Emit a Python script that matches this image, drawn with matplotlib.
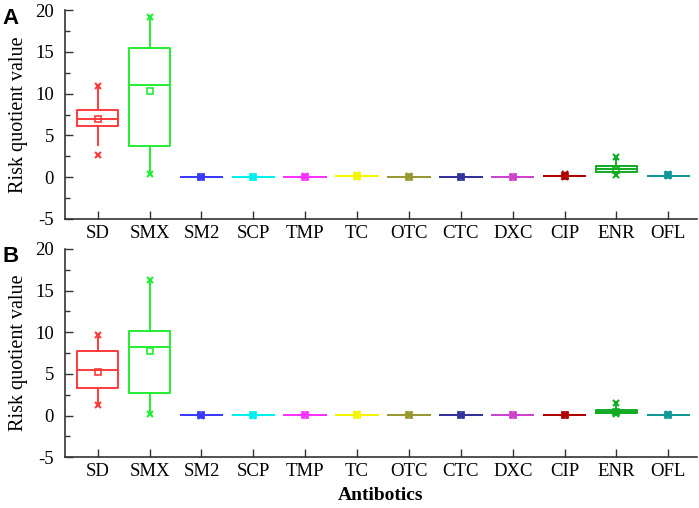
import matplotlib
matplotlib.use("Agg")
import matplotlib.pyplot as plt
from matplotlib.ticker import MultipleLocator

categories = ["SD", "SMX", "SM2", "SCP", "TMP", "TC", "OTC", "CTC", "DXC", "CIP", "ENR", "OFL"]
colors = ["#ff3b3b", "#22ee33", "#3a3aff", "#00f0f0", "#ff33ff", "#f5f500",
          "#999933", "#333399", "#cc44cc", "#b00000", "#11aa22", "#119999"]

# Panel A statistics
a_q1 = [6.07, 3.7, 0.02, 0.02, 0.05, 0.15, 0.05, 0.03, 0.03, 0.10, 0.60, 0.18]
a_med = [7.02, 11.07, 0.02, 0.02, 0.05, 0.15, 0.05, 0.03, 0.03, 0.10, 0.96, 0.18]
a_q3 = [8.06, 15.5, 0.02, 0.02, 0.05, 0.15, 0.05, 0.03, 0.03, 0.10, 1.32, 0.18]
a_mean = [7.0, 10.3, 0.02, 0.02, 0.08, 0.2, 0.06, 0.04, 0.04, 0.12, 0.84, 0.25]
a_wlo = [3.8, 0.45, 0.02, 0.02, 0.05, 0.15, 0.05, 0.03, 0.03, 0.10, 0.3, 0.18]
a_whi = [10.5, 19.1, 0.02, 0.02, 0.05, 0.15, 0.05, 0.03, 0.03, 0.10, 2.2, 0.18]
a_min = [2.7, 0.4, 0.01, 0.01, 0.02, 0.05, 0.02, 0.01, 0.01, 0.05, 0.24, 0.10]
a_max = [10.95, 19.2, 0.05, 0.05, 0.2, 0.3, 0.1, 0.06, 0.06, 0.35, 2.4, 0.4]

# Panel B statistics
b_q1 = [3.33, 2.7, 0.01, 0.01, 0.02, 0.05, 0.03, 0.02, 0.02, 0.04, 0.28, 0.08]
b_med = [5.48, 8.17, 0.01, 0.01, 0.02, 0.05, 0.03, 0.02, 0.02, 0.04, 0.48, 0.08]
b_q3 = [7.74, 10.16, 0.01, 0.01, 0.02, 0.05, 0.03, 0.02, 0.02, 0.04, 0.68, 0.08]
b_mean = [5.28, 7.7, 0.01, 0.01, 0.03, 0.08, 0.03, 0.03, 0.02, 0.05, 0.42, 0.08]
b_wlo = [1.3, 0.25, 0.01, 0.01, 0.02, 0.05, 0.03, 0.02, 0.02, 0.04, 0.22, 0.08]
b_whi = [9.7, 16.2, 0.01, 0.01, 0.02, 0.05, 0.03, 0.02, 0.02, 0.04, 1.3, 0.08]
b_min = [1.27, 0.2, 0.0, 0.0, 0.01, 0.02, 0.01, 0.01, 0.01, 0.02, 0.2, 0.05]
b_max = [9.72, 16.3, 0.03, 0.03, 0.08, 0.15, 0.05, 0.1, 0.05, 0.1, 1.5, 0.15]

plt.rcParams['font.family'] = ['Liberation Serif', 'DejaVu Serif']
plt.rcParams['axes.unicode_minus'] = False

fig = plt.figure(figsize=(6.99, 5.08), dpi=100)
axA = fig.add_axes([0.093, 0.569, 0.904, 0.411])
axB = fig.add_axes([0.093, 0.100, 0.904, 0.410])

positions = list(range(1, len(categories) + 1))


def draw(ax, q1, med, q3, mean, wlo, whi, mn, mx):
    for i, p in enumerate(positions):
        st = [dict(q1=q1[i], med=med[i], q3=q3[i], whislo=wlo[i], whishi=whi[i],
                   fliers=[], label=categories[i])]
        c = colors[i]
        ax.bxp(st, positions=[p], widths=0.8, showcaps=False, showfliers=False,
               boxprops=dict(color=c, linewidth=1.4),
               medianprops=dict(color=c, linewidth=1.4),
               whiskerprops=dict(color=c, linewidth=1.4),
               manage_ticks=False)
        ax.plot([p], [mean[i]], marker='s', markersize=4.5, markerfacecolor='none',
                markeredgecolor=c, markeredgewidth=1.2, linestyle='none')
        ax.plot([p, p], [mn[i], mx[i]], marker='x', markersize=4.5,
                markeredgecolor=c, markeredgewidth=1.5, linestyle='none')
    ax.set_xlim(0.37, 12.55)
    ax.set_ylim(-5, 20)
    ax.set_xticks(positions)
    ax.set_xticklabels(categories, fontsize=13.5)
    ax.yaxis.set_major_locator(MultipleLocator(5))
    ax.yaxis.set_minor_locator(MultipleLocator(2.5))
    ax.tick_params(axis='y', which='major', direction='in', length=6, width=1,
                   labelsize=13.5, colors='#333333', labelcolor='black', pad=8)
    ax.tick_params(axis='y', which='minor', direction='in', length=3.5, width=1,
                   colors='#333333')
    ax.tick_params(axis='x', which='major', direction='in', length=6, width=1,
                   colors='#333333', labelcolor='black', pad=4)
    for s in ['top', 'right']:
        ax.spines[s].set_visible(False)
    for s in ['left', 'bottom']:
        ax.spines[s].set_color('#333333')
        ax.spines[s].set_linewidth(1.2)
    ax.set_ylabel("Risk quotient value", fontsize=14.5, labelpad=5)


draw(axA, a_q1, a_med, a_q3, a_mean, a_wlo, a_whi, a_min, a_max)
draw(axB, b_q1, b_med, b_q3, b_mean, b_wlo, b_whi, b_min, b_max)
axB.set_xlabel("Antibotics", fontsize=14, fontweight='bold', labelpad=5)

fig.text(0.003, 0.985, "A", fontsize=16, fontweight='bold', family='Liberation Sans',
         va='top', ha='left')
fig.text(0.003, 0.515, "B", fontsize=16, fontweight='bold', family='Liberation Sans',
         va='top', ha='left')

fig.savefig("out.png", dpi=100)
